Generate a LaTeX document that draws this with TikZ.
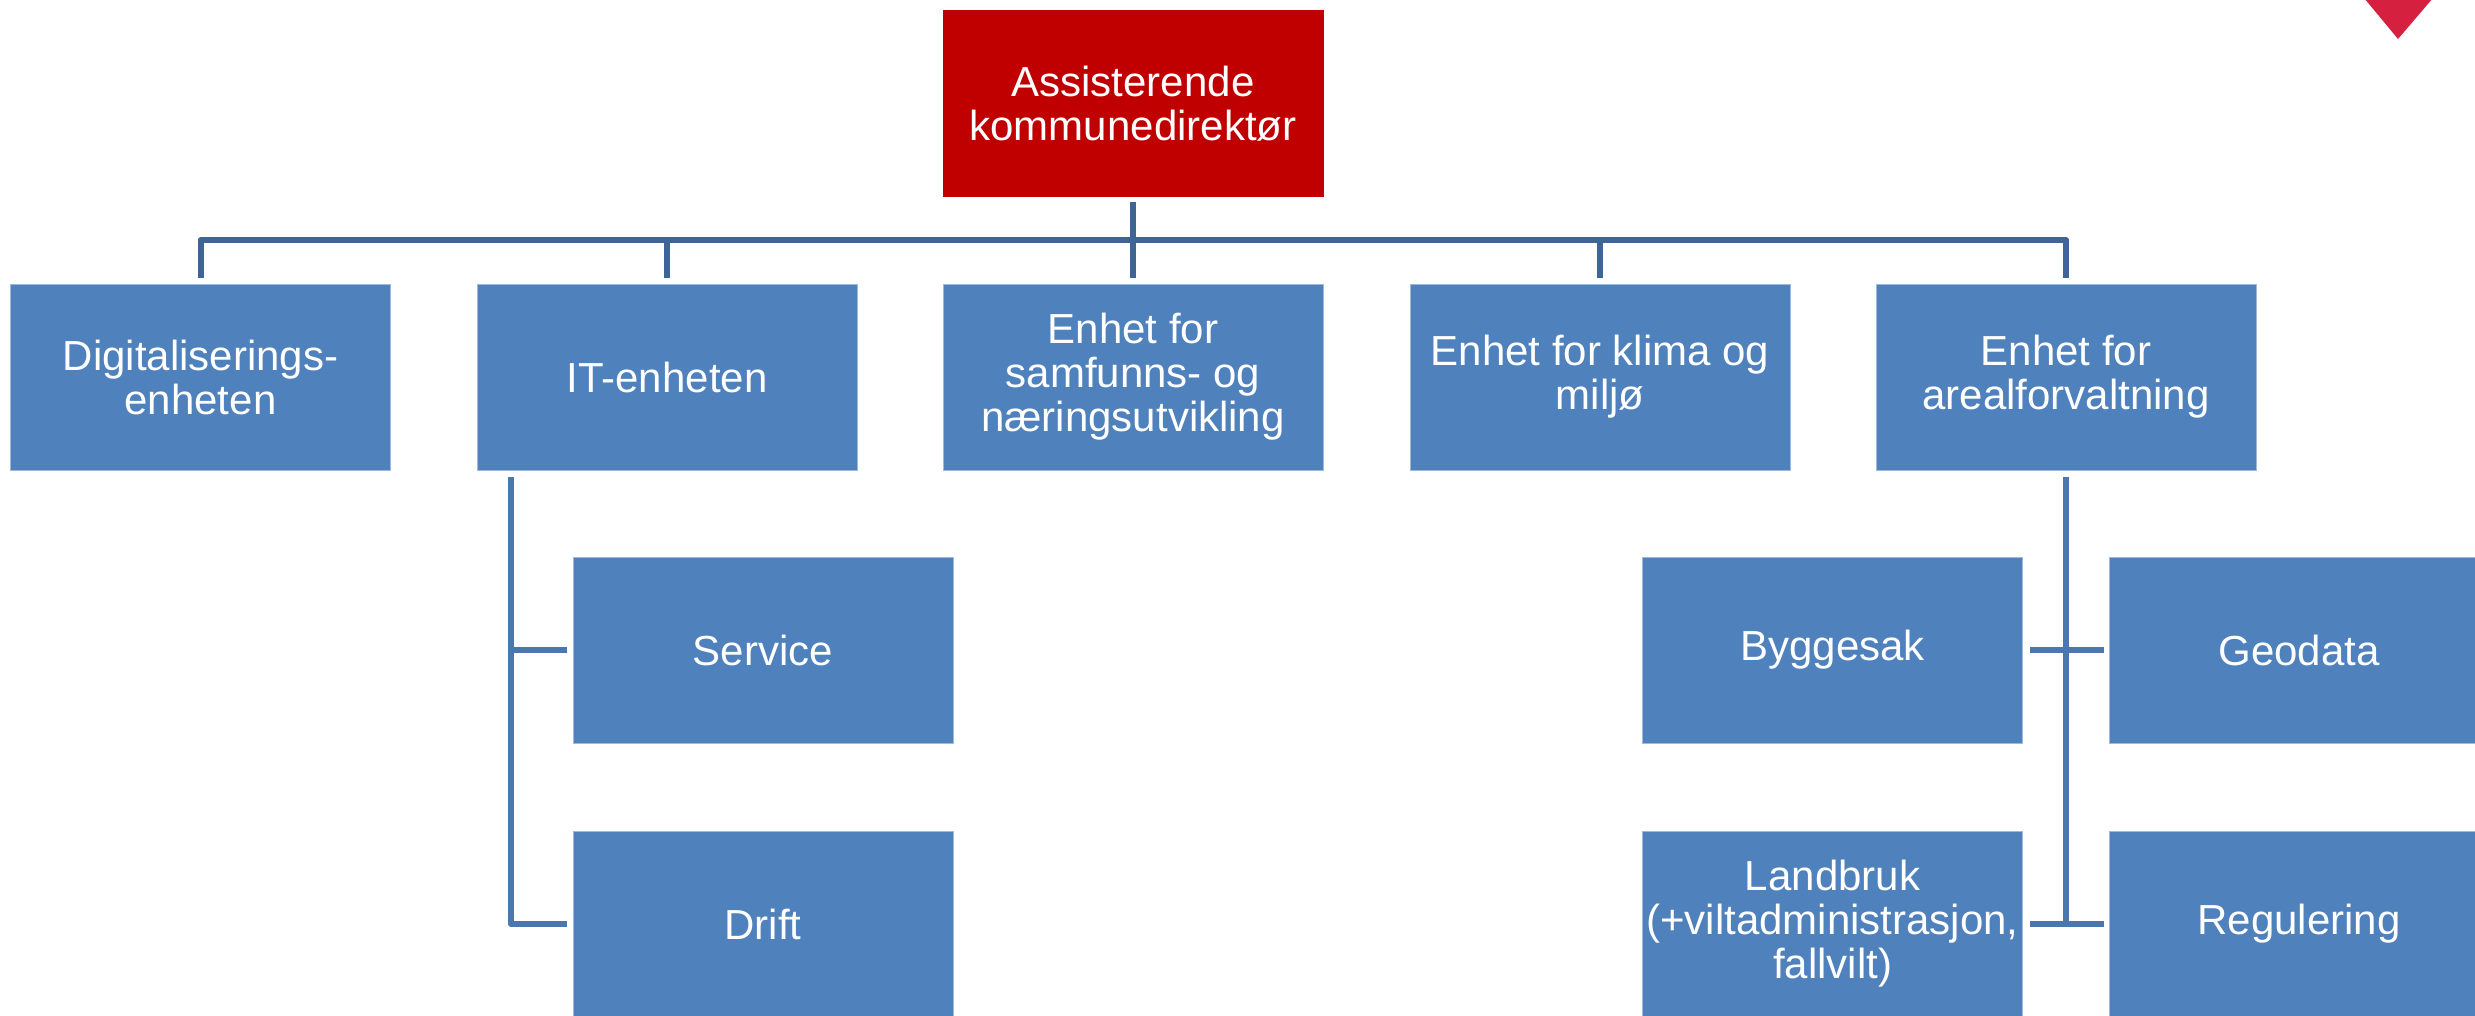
\documentclass[tikz,border=0pt]{standalone}
\usepackage{fontspec}
\setmainfont{Liberation Sans}
\definecolor{boxblue}{HTML}{4F81BD}
\definecolor{topred}{HTML}{C00000}
\definecolor{connA}{HTML}{3F6597}
\definecolor{connB}{HTML}{4A77AE}
\definecolor{logored}{HTML}{D5213F}
\begin{document}
\begin{tikzpicture}[x=1pt,y=-1pt,
  box/.style={fill=boxblue, draw=white!45!boxblue, line width=1pt, text=white,
    minimum width=380pt, minimum height=186pt,
    inner sep=0pt, align=center, font=\fontsize{42}{44}\selectfont},
  conn/.style={draw=connA, line width=6pt, line join=round},
  subconn/.style={draw=connB, line width=6pt, line join=round}]
\useasboundingbox (0,0) rectangle (2475,1015);
\clip (0,0) rectangle (2475,1015);
\fill[white] (0,0) rectangle (2475,1015);

% logo fragment
\fill[logored] (2364,-2) -- (2398,39) -- (2433,-2) -- cycle;

% nodes
\node[box, fill=topred, draw=topred] (top) at (1133,103.5) {Assisterende\\kommunedirektør};
\node[box] (dig) at (200.5,377) {Digitaliserings-\\enheten};
\node[box] (it) at (667,377) {IT-enheten};
\node[box] (samf) at (1133,377) {Enhet for\\samfunns- og\\næringsutvikling};
\node[box] (klima) at (1600,377) {Enhet for klima og\\miljø};
\node[box] (areal) at (2066,377) {Enhet for\\arealforvaltning};
\node[box] (service) at (763,650) {Service};
\node[box] (drift) at (763,924) {Drift};
\node[box] (bygg) at (1832.5,650) {Byggesak};
\node[box] (land) at (1832.5,924) {Landbruk\\(+viltadministrasjon,\\fallvilt)};
\node[box] (geo) at (2299,650) {Geodata};
\node[box] (reg) at (2299,924) {Regulering};

\coordinate (bus) at (0,240);
\coordinate (itline) at (511,0);

% top level connectors
\draw[conn] ([yshift=-5pt]top.south) -- (top.south |- bus);
\draw[conn] ([yshift=6pt]dig.north) -- (dig.north |- bus) -- (areal.north |- bus) -- ([yshift=6pt]areal.north);
\draw[conn] (it.north |- bus) -- ([yshift=6pt]it.north);
\draw[conn] (samf.north |- bus) -- ([yshift=6pt]samf.north);
\draw[conn] (klima.north |- bus) -- ([yshift=6pt]klima.north);

% IT sub connectors
\draw[subconn] ([yshift=-6pt]it.south -| itline) -- (itline |- drift.west) -- ([xshift=-6pt]drift.west);
\draw[subconn] (itline |- service.west) -- ([xshift=-6pt]service.west);

% areal sub connectors
\draw[subconn] ([yshift=-6pt]areal.south) -- ([yshift=-3pt]areal.south |- land.east);
\draw[subconn] ([xshift=7pt]bygg.east) -- ([xshift=-5pt]geo.west);
\draw[subconn] ([xshift=7pt]land.east) -- ([xshift=-5pt]reg.west);
\end{tikzpicture}
\end{document}
